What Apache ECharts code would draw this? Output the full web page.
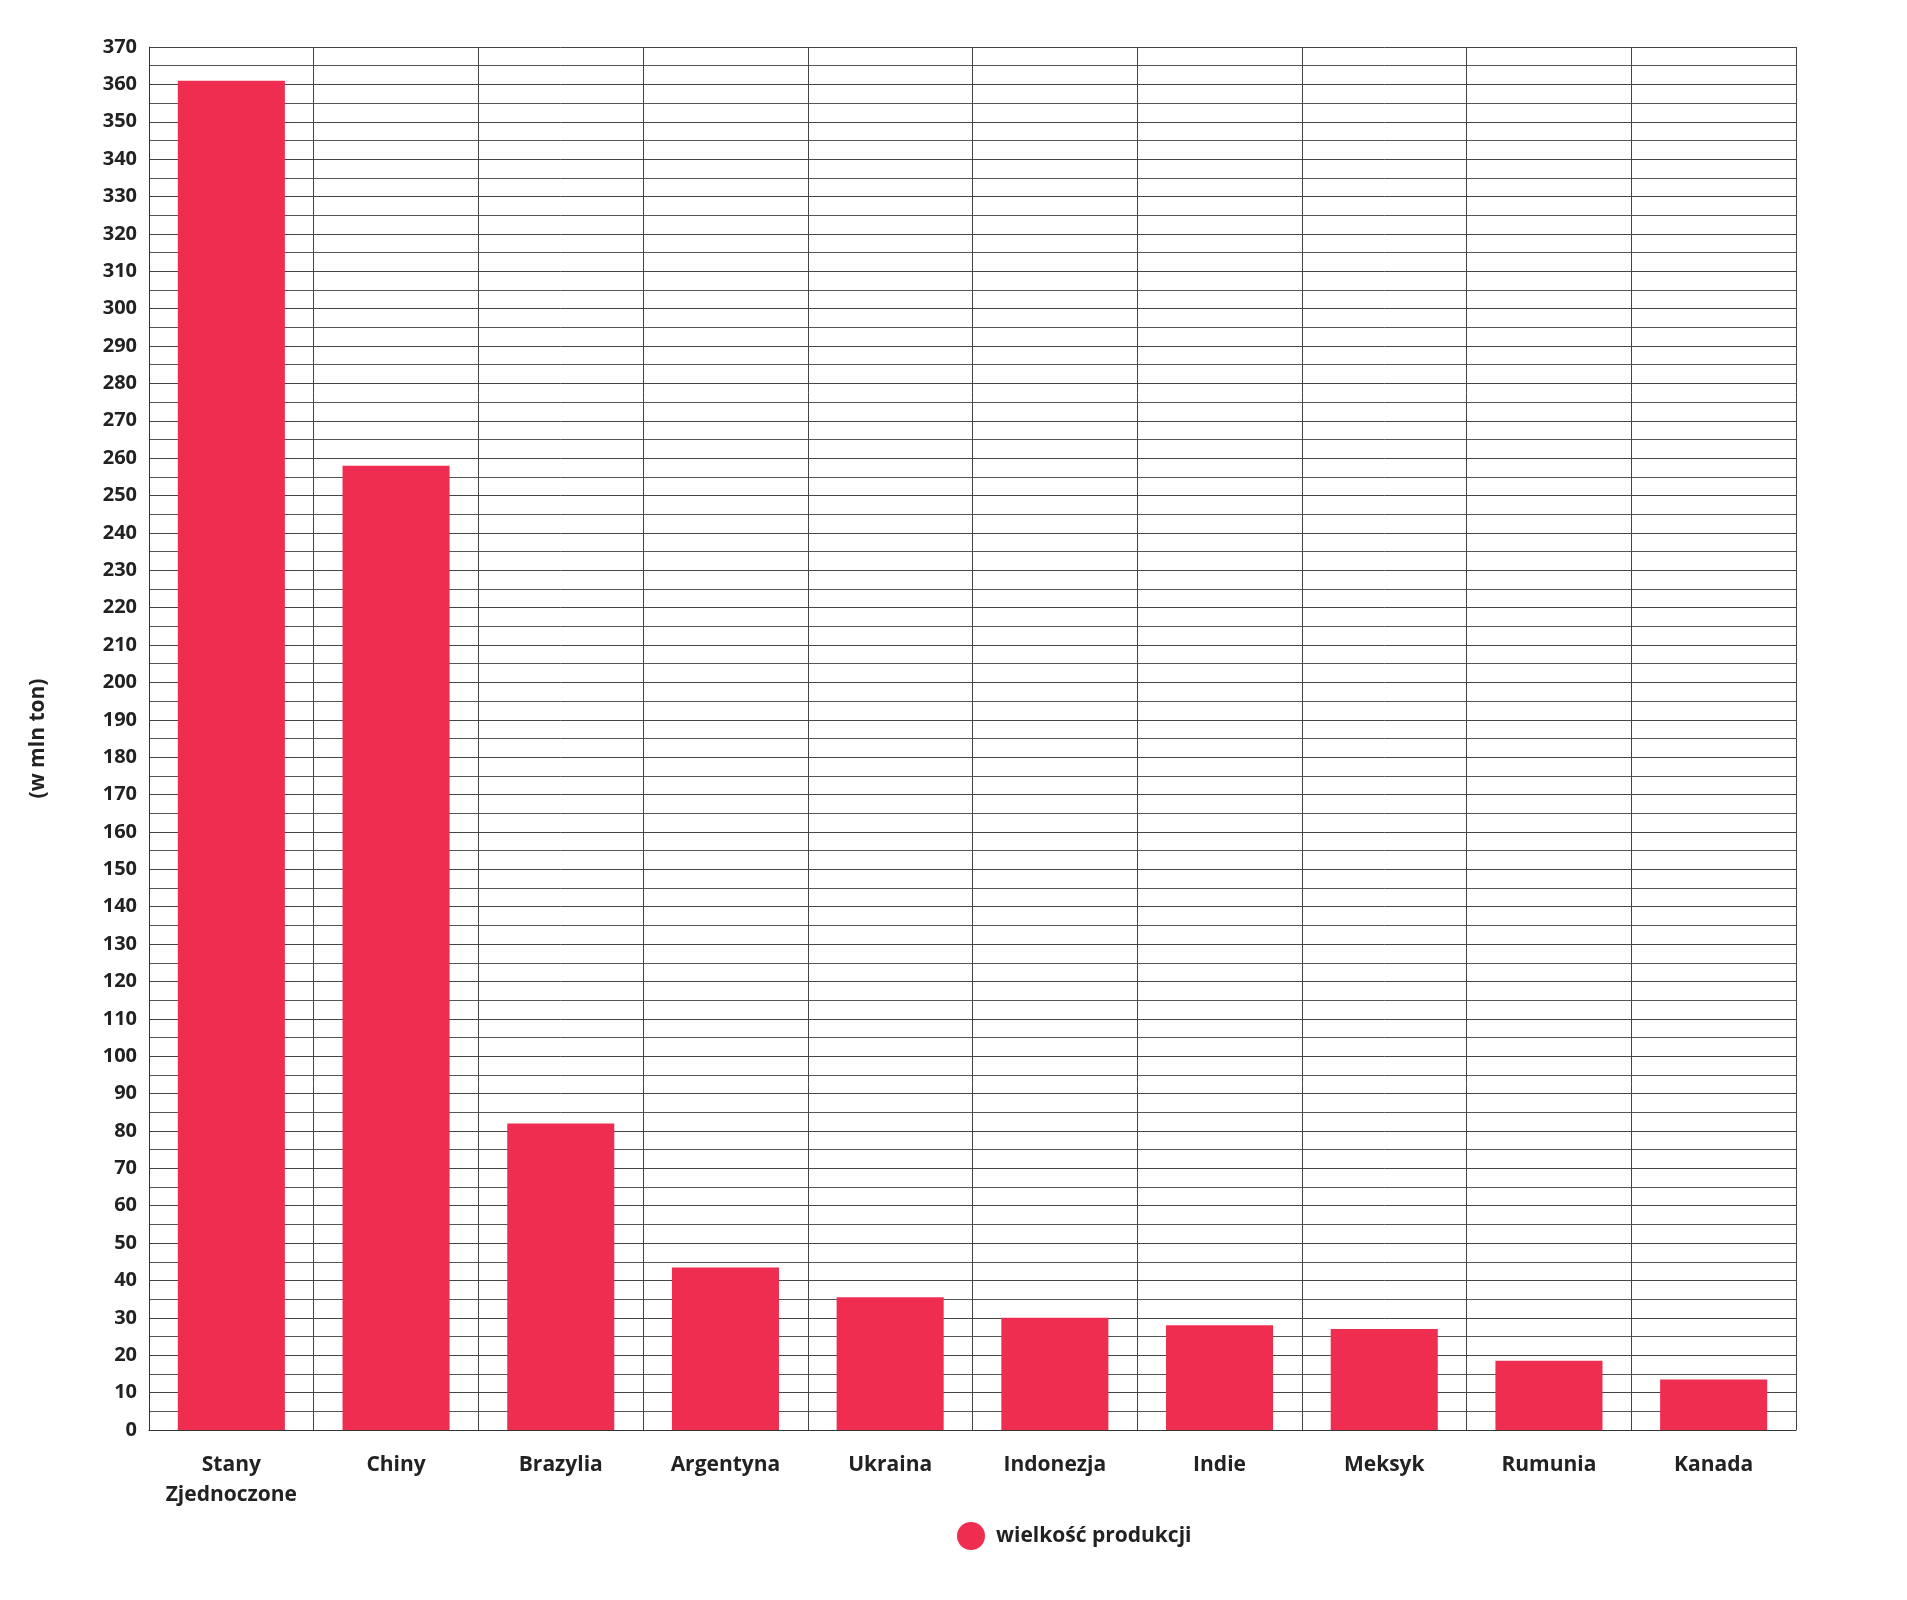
<!DOCTYPE html>
<html><head><meta charset="utf-8">
<script src="https://cdn.jsdelivr.net/npm/echarts@6/dist/echarts.min.js"></script>
<style>html,body{margin:0;background:#fff}#c{width:1907px;height:1600px}</style>
</head><body><div id="c"></div>
<script>
var countries = ['Stany\nZjednoczone', 'Chiny', 'Brazylia', 'Argentyna', 'Ukraina', 'Indonezja', 'Indie', 'Meksyk', 'Rumunia', 'Kanada'];
var production = [361, 258, 82, 43.5, 35.5, 30, 28, 27, 18.5, 13.5];
var seriesName = 'wielkość produkcji';

var font = '"Open Sans", sans-serif';
var chart = echarts.init(document.getElementById('c'));
chart.setOption({
    textStyle: {fontFamily: font},
    grid: {left: 149, right: 111, top: 47, bottom: 170},
    legend: {
        bottom: 45, left: 952, icon: 'circle', itemWidth: 28, itemHeight: 28, itemGap: 14,
        textStyle: {fontSize: 21, fontWeight: 'bold', color: '#222', fontFamily: font, padding: [0, 0, 0, 6]},
        data: [seriesName]
    },
    xAxis: {
        type: 'category', data: countries,
        axisLine: {lineStyle: {color: '#333'}},
        axisTick: {show: false},
        splitLine: {show: true, interval: 0, lineStyle: {color: '#444', width: 1}},
        axisLabel: {interval: 0, fontSize: 21, fontWeight: 'bold', color: '#222', margin: 20, lineHeight: 30, fontFamily: font}
    },
    yAxis: {
        type: 'value', min: 0, max: 370, interval: 10,
        name: '(w mln ton)', nameLocation: 'middle', nameRotate: 90, nameGap: 100,
        nameTextStyle: {fontSize: 21, fontWeight: 'bold', color: '#222', fontFamily: font},
        axisLine: {show: true, lineStyle: {color: '#333'}},
        axisTick: {show: false},
        minorTick: {show: false, splitNumber: 2},
        minorSplitLine: {show: true, lineStyle: {color: '#555', width: 1}},
        splitLine: {lineStyle: {color: '#444', width: 1}},
        axisLabel: {fontSize: 20, fontWeight: 'bold', color: '#222', margin: 12, fontFamily: font}
    },
    series: [{
        name: seriesName, type: 'bar', data: production, barWidth: '65%',
        itemStyle: {color: '#EF2D50'}
    }]
});
</script></body></html>
